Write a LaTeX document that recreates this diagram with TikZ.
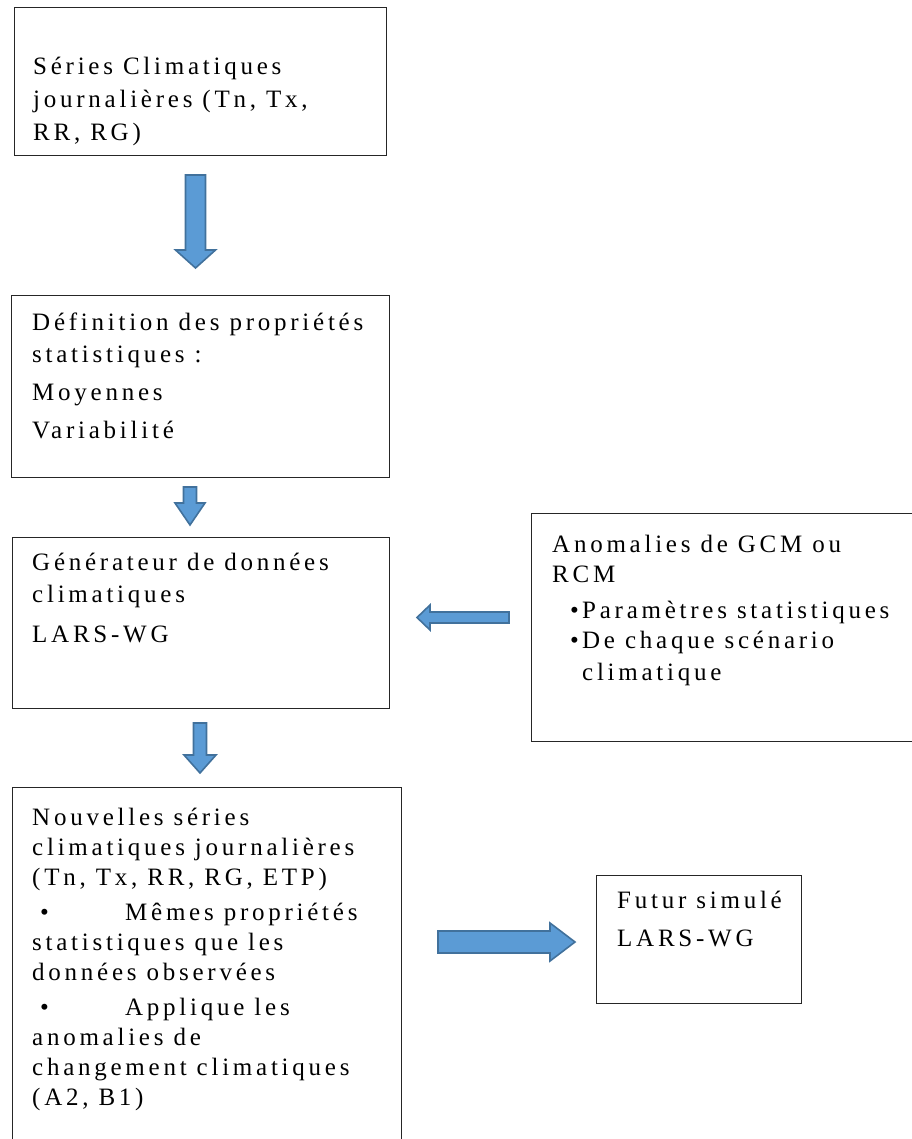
\documentclass[tikz,border=0pt]{standalone}
\usepackage{fontspec}
\setmainfont{Liberation Serif}[LetterSpace=15]
\usepackage{tikz}
\usetikzlibrary{calc}

\definecolor{arrowfill}{HTML}{5B9BD5}
\definecolor{arrowline}{HTML}{41719C}

% block arrow: start, tip, shaft half width, head half width, head length
\newcommand{\fatarrow}[5]{%
  \coordinate (fa-h) at ($(#2)!#5!(#1)$);
  \draw[fatarrow] ($(#1)!#3!90:(#2)$) -- ($(fa-h)!#3!90:(#2)$) -- ($(fa-h)!#4!90:(#2)$) -- (#2)
    -- ($(fa-h)!#4!-90:(#2)$) -- ($(fa-h)!#3!-90:(#2)$) -- ($(#1)!#3!-90:(#2)$) -- cycle;
}

\begin{document}
\begin{tikzpicture}[
    x=1pt, y=-1pt,
    box/.style={rectangle, draw=black!85, line width=1pt, anchor=north west, inner sep=0pt},
    txt/.style={anchor=north west, inner sep=0pt, align=left, font=\fontsize{25}{31}\selectfont},
    fatarrow/.style={draw=arrowline, fill=arrowfill, line width=1.6pt, line join=miter}
]
\useasboundingbox (0,0) rectangle (911,1139);

% boxes
\node[box, minimum width=372pt, minimum height=148pt] (b1) at (14,7) {};
\node[box, minimum width=378pt, minimum height=182pt] (b2) at (11,295) {};
\node[box, minimum width=377pt, minimum height=171pt] (b3) at (12,537) {};
\node[box, minimum width=400pt, minimum height=228pt] (b6) at (531,513) {};
\node[box, minimum width=389pt, minimum height=380pt] (b4) at (12,787) {};
\node[box, minimum width=205pt, minimum height=128pt] (b5) at (596,875) {};

% texts
\node[txt] (t1) at (33,57) {\rule{0pt}{17pt}Séries Climatiques\\[2pt] journalières (Tn, Tx,\\[2pt] RR, RG)};
\node[txt] (t2) at (32,313) {\rule{0pt}{17pt}Définition des propriétés\\[1pt] statistiques :\\[7pt] Moyennes\\[7pt] Variabilité};
\node[txt] (t3) at (32,553) {\rule{0pt}{17pt}Générateur de données\\[1pt] climatiques\\[9pt] LARS-WG};
\node[txt] (t6) at (552,535) {\rule{0pt}{17pt}Anomalies de GCM ou\\[-1pt] RCM\\[5pt]
  \hspace*{18pt}\makebox[12pt][l]{•}Paramètres statistiques\\[-1pt]
  \hspace*{18pt}\makebox[12pt][l]{•}De chaque scénario\\[1pt]
  \hspace*{30pt}climatique};
\node[txt] (t4) at (32,808) {\rule{0pt}{17pt}Nouvelles séries\\[-1pt] climatiques journalières\\[-1pt] (Tn, Tx, RR, RG, ETP)\\[4pt]
  \hspace*{8pt}\makebox[85pt][l]{•}Mêmes propriétés\\[-1pt] statistiques que les\\[-1pt] données observées\\[4pt]
  \hspace*{8pt}\makebox[85pt][l]{•}Applique les\\[-1pt] anomalies de\\[-1pt] changement climatiques\\[-1pt] (A2, B1)};
\node[txt] (t5) at (617,891) {\rule{0pt}{17pt}Futur simulé\\[7pt] LARS-WG};

% arrow ends
\coordinate (a1s) at (195.5,175);
\coordinate (a1e) at (195.5,268);
\coordinate (a2s) at (190,487);
\coordinate (a2e) at (190,525);
\coordinate (a3s) at (200,723);
\coordinate (a3e) at (200,773);
\coordinate (a4s) at (509,617.5);
\coordinate (a4e) at (417,617.5);
\coordinate (a5s) at (438,942);
\coordinate (a5e) at (575,942);

\fatarrow{a1s}{a1e}{10pt}{20pt}{18pt}
\fatarrow{a2s}{a2e}{6.5pt}{15pt}{22pt}
\fatarrow{a3s}{a3e}{6.5pt}{16pt}{18pt}
\fatarrow{a4s}{a4e}{5.5pt}{12.5pt}{13pt}
\fatarrow{a5s}{a5e}{11pt}{19pt}{25pt}
\end{tikzpicture}
\end{document}
